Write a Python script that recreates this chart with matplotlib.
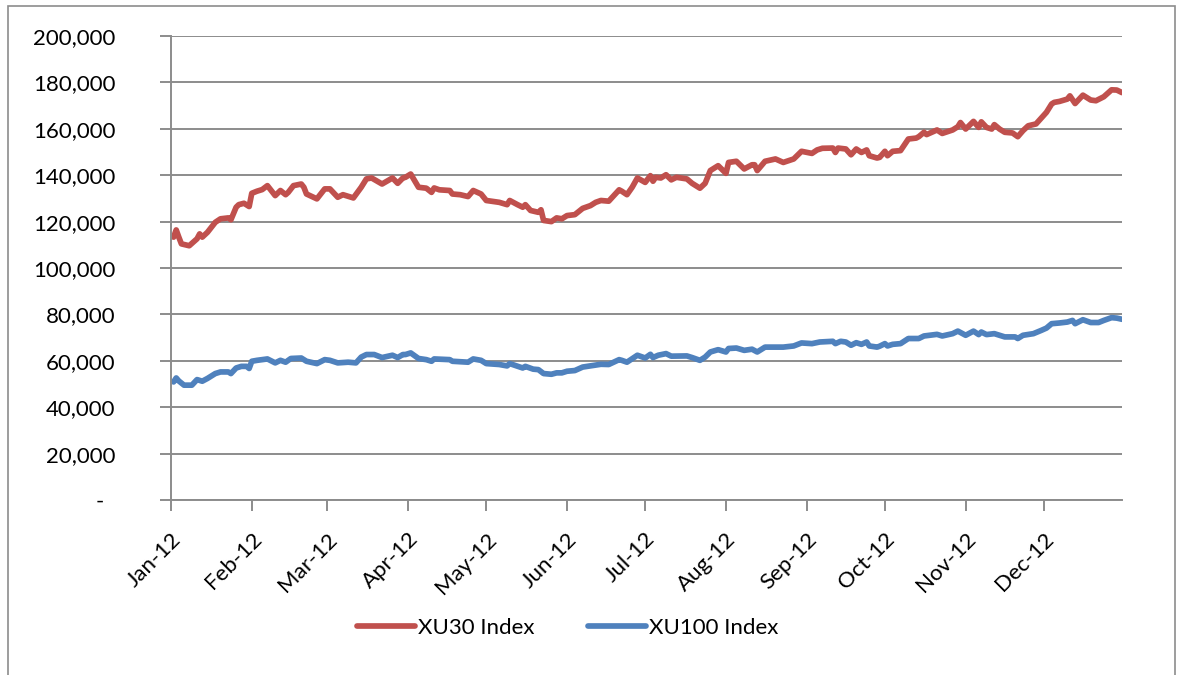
import matplotlib
matplotlib.use("Agg")
import matplotlib.pyplot as plt
import matplotlib.dates as mdates
from matplotlib.ticker import FuncFormatter
from matplotlib.patches import Rectangle
from matplotlib.transforms import ScaledTranslation
import pandas as pd

# ---- data (day offsets from 2012-01-01, values in thousands of index points) ----
xu30_days = [1, 2, 3, 4, 7, 10, 11, 12, 14, 17, 19, 22, 23, 25, 26, 28, 30, 31, 33, 35,
             37, 40, 42, 44, 45, 47, 50, 51, 52, 56, 59, 61, 64, 66, 70, 73, 75, 77, 81, 85,
             87, 89, 90, 92, 95, 98, 100, 101, 103, 107, 108, 111, 114, 116, 119, 121, 126, 129, 130, 133,
             135, 136, 138, 141, 142, 143, 146, 148, 150, 152, 155, 158, 161, 163, 165, 168, 172, 173, 175, 177,
             179, 182, 184, 185, 186, 188, 190, 192, 194, 198, 200, 203, 205, 207, 210, 213, 214, 217, 220, 223,
             224, 225, 228, 232, 235, 239, 242, 246, 248, 250, 254, 255, 256, 259, 261, 263, 265, 267, 268, 271,
             272, 274, 275, 277, 280, 283, 286, 287, 289, 290, 294, 296, 300, 302, 303, 305, 308, 310, 311, 313,
             315, 316, 318, 320, 323, 325, 327, 329, 332, 334, 336, 338, 339, 341, 344, 345, 347, 350, 353, 355,
             358, 361, 363, 365]
xu30_values = [113.3, 116.4, 113.3, 110.4, 109.6, 112.6, 114.7, 113.3, 115.4, 119.7, 121.2, 121.6, 120.8, 126.2, 127.3, 127.9, 126.5, 132.2, 133.1, 133.8,
               135.5, 131.2, 133.4, 131.6, 132.6, 135.5, 136.2, 134.8, 131.9, 129.8, 134.1, 134.1, 130.5, 131.6, 130.2, 134.8, 138.4, 138.8, 136.2, 138.8,
               136.5, 138.8, 139.1, 140.5, 134.8, 134.4, 132.6, 134.5, 133.7, 133.4, 131.9, 131.6, 130.8, 133.4, 131.9, 129.1, 128.3, 127.3, 129.1, 127.3,
               126.2, 127.3, 124.8, 124.0, 125.1, 120.5, 120.0, 121.6, 121.2, 122.6, 123.0, 125.7, 126.9, 128.3, 129.1, 128.8, 133.7, 133.1, 131.6, 134.8,
               138.8, 136.9, 139.8, 137.4, 139.1, 138.8, 140.2, 138.0, 139.1, 138.4, 136.5, 134.4, 136.5, 142.0, 144.1, 140.8, 145.5, 146.0, 142.7, 144.5,
               144.5, 142.0, 146.0, 147.0, 145.5, 147.0, 150.3, 149.4, 150.9, 151.6, 151.7, 149.8, 151.7, 151.3, 148.8, 151.3, 149.8, 150.9, 148.4, 147.4,
               147.7, 150.3, 148.4, 150.3, 150.6, 155.6, 156.0, 156.6, 158.5, 157.5, 159.5, 158.0, 159.5, 160.9, 162.7, 159.9, 163.2, 160.6, 163.0, 160.6,
               159.9, 161.8, 159.9, 158.5, 158.2, 156.6, 159.2, 161.3, 162.1, 164.6, 167.1, 170.7, 171.4, 171.8, 172.8, 174.2, 170.9, 174.5, 172.4, 172.1,
               173.8, 176.8, 176.7, 175.6]

xu100_days = [1, 2, 3, 5, 8, 10, 12, 14, 17, 19, 22, 23, 25, 27, 29, 30, 31, 33, 37, 40,
              42, 44, 46, 50, 52, 56, 59, 61, 64, 68, 71, 73, 75, 78, 81, 85, 87, 89, 90, 92,
              95, 98, 100, 101, 107, 108, 114, 116, 119, 121, 126, 129, 130, 135, 136, 139, 141, 143, 146, 148,
              150, 152, 155, 158, 161, 165, 168, 172, 173, 175, 179, 182, 184, 185, 187, 190, 192, 198, 200, 203,
              205, 207, 210, 213, 214, 217, 220, 223, 225, 228, 235, 239, 242, 246, 249, 254, 255, 257, 259, 261,
              263, 265, 267, 268, 271, 272, 274, 275, 277, 280, 283, 287, 289, 294, 296, 300, 302, 305, 308, 310,
              311, 313, 316, 318, 320, 324, 325, 327, 331, 334, 336, 338, 341, 344, 346, 347, 350, 353, 356, 358,
              361, 363, 365]
xu100_values = [50.9, 52.6, 51.3, 49.5, 49.5, 51.9, 51.2, 52.4, 54.5, 55.2, 55.2, 54.5, 56.9, 57.6, 57.6, 56.7, 59.8, 60.2, 60.8, 59.1,
                60.2, 59.4, 61.0, 61.2, 59.8, 58.8, 60.5, 60.2, 59.1, 59.4, 59.1, 61.6, 62.7, 62.7, 61.4, 62.4, 61.4, 62.7, 62.7, 63.4,
                61.0, 60.5, 59.8, 60.8, 60.5, 59.8, 59.4, 60.8, 60.2, 58.8, 58.4, 57.8, 58.8, 56.9, 57.6, 56.4, 56.2, 54.5, 54.2, 54.8,
                54.8, 55.5, 55.8, 57.3, 57.8, 58.5, 58.4, 60.5, 60.2, 59.4, 62.4, 61.2, 62.8, 61.4, 62.4, 63.1, 62.0, 62.1, 61.4, 60.2,
                61.6, 63.8, 64.8, 63.8, 65.3, 65.5, 64.5, 65.0, 63.8, 65.9, 65.9, 66.4, 67.7, 67.4, 68.1, 68.4, 67.4, 68.4, 68.1, 66.7,
                67.8, 67.1, 68.1, 66.4, 65.9, 66.3, 67.4, 66.4, 67.1, 67.4, 69.6, 69.6, 70.7, 71.4, 70.7, 71.7, 72.8, 71.0, 72.8, 71.3,
                72.4, 71.3, 71.7, 71.0, 70.3, 70.3, 69.6, 71.0, 71.7, 73.1, 74.1, 76.0, 76.3, 76.7, 77.4, 76.0, 77.7, 76.5, 76.5, 77.4,
                78.6, 78.4, 77.9]

series_names = ["XU30 Index", "XU100 Index"]
series_colors = ["#C0504D", "#4F81BD"]
y_ticks = [0, 20000, 40000, 60000, 80000, 100000, 120000, 140000, 160000, 180000, 200000]

start = pd.Timestamp("2012-01-01")
d30 = start + pd.to_timedelta(xu30_days, unit="D")
d100 = start + pd.to_timedelta(xu100_days, unit="D")
v30 = [v * 1000 for v in xu30_values]
v100 = [v * 1000 for v in xu100_values]

plt.rcParams["font.family"] = ["Lato", "DejaVu Sans"]

fig = plt.figure(figsize=(11.81, 6.75), dpi=100)
ax = fig.add_axes([171 / 1181, 1 - 500 / 675, (1122 - 171) / 1181, (500 - 36) / 675])

ax.plot(d30, v30, color=series_colors[0], lw=4.1, label=series_names[0], solid_joinstyle="round", solid_capstyle="round")
ax.plot(d100, v100, color=series_colors[1], lw=4.1, label=series_names[1], solid_joinstyle="round", solid_capstyle="round")

ax.set_xlim(pd.Timestamp("2012-01-01"), pd.Timestamp("2012-12-31"))
ax.set_ylim(0, 200000)
ax.set_yticks(y_ticks)


def yfmt(v, pos):
    if v == 0:
        return "-  "
    return f"{int(v):,}"


ax.yaxis.set_major_formatter(FuncFormatter(yfmt))
ax.xaxis.set_major_locator(mdates.MonthLocator())
ax.xaxis.set_major_formatter(mdates.DateFormatter("%b-%y"))

gcol = "#8C8C8C"
ax.grid(axis="y", color=gcol, lw=1.4)
ax.set_axisbelow(True)
for s in ["top", "right"]:
    ax.spines[s].set_visible(False)
for s in ["left", "bottom"]:
    ax.spines[s].set_color(gcol)
    ax.spines[s].set_linewidth(1.4)

ax.tick_params(axis="y", length=8, width=1.4, color=gcol, labelsize=16, pad=32)
ax.tick_params(axis="x", length=8, width=1.4, color=gcol, labelsize=16, pad=10)
offset = ScaledTranslation(7 / 100, -11 / 100, fig.dpi_scale_trans)
for lab in ax.get_xticklabels():
    lab.set_rotation(45)
    lab.set_ha("right")
    lab.set_va("center")
    lab.set_rotation_mode("anchor")
    lab.set_transform(lab.get_transform() + offset)

fig.legend(loc="center", bbox_to_anchor=(568 / 1181, 1 - 628 / 675), ncol=2, frameon=False,
           fontsize=16, handlelength=2.6, handletextpad=0.15, columnspacing=2.4)

fig.patches.append(Rectangle((8 / 1181, -0.01), (1175 - 8) / 1181, 1.01 - 6 / 675,
                             transform=fig.transFigure, fill=False, edgecolor=gcol, lw=1.2))

fig.savefig("out.png", dpi=100)
